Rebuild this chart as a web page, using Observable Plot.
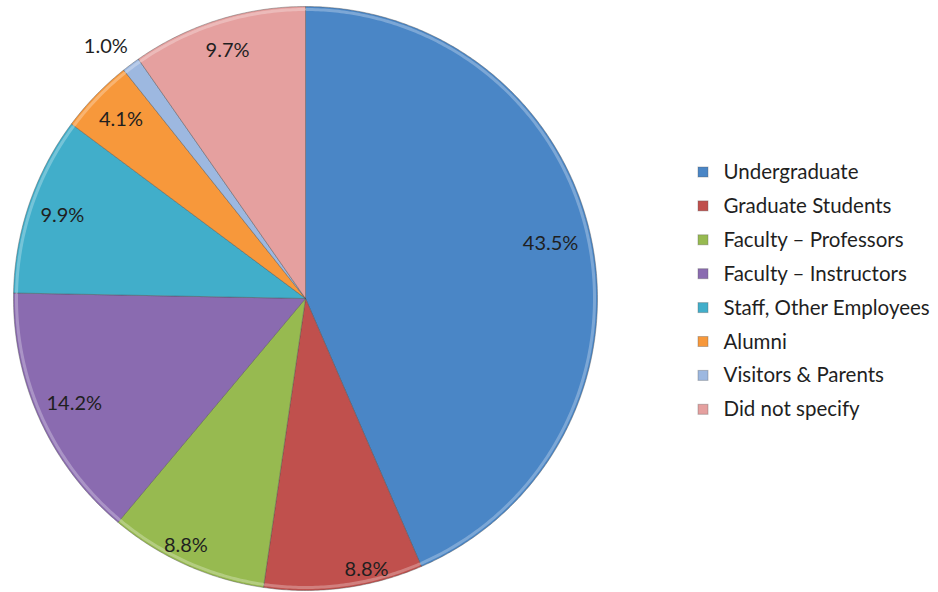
<!DOCTYPE html>
<html>
<head>
<meta charset="utf-8">
<script src="https://cdn.jsdelivr.net/npm/d3@7"></script>
<script src="https://cdn.jsdelivr.net/npm/@observablehq/plot@0.6"></script>
<style>
  html, body { margin: 0; padding: 0; background: #fff; }
  #chart { width: 938px; height: 592px; }
</style>
</head>
<body>
<div id="chart"></div>
<script>
// ---- data ----
const categories = ["Undergraduate", "Graduate Students", "Faculty \u2013 Professors", "Faculty \u2013 Instructors",
                    "Staff, Other Employees", "Alumni", "Visitors & Parents", "Did not specify"];
const shares = [43.5, 8.8, 8.8, 14.2, 9.9, 4.1, 1.0, 9.7];
const labels = ["43.5%", "8.8%", "8.8%", "14.2%", "9.9%", "4.1%", "1.0%", "9.7%"];
const colors = ["#4A86C6", "#C0504D", "#97BA50", "#8A6BB0", "#41AECA", "#F7983B", "#9DB8E0", "#E5A09F"];

// ---- layout (pixel space) ----
const W = 938, H = 592;
const cx = 305, cy = 298, R = 292;
const labelRadius = [0.86, 0.95, 0.94, 0.87, 0.88, 0.88, 1.10, 0.89];
const labelTurn = [-0.015, -0.09, 0.03, 0, 0, 0, -0.03, 0];
const legendX = 703, legendY0 = 172, legendStep = 33.9;

const pie = d3.pie().sort(null).value(d => d)(shares);

// slice polygons (angles clockwise from 12 o'clock)
const slicePts = [];
pie.forEach((p, i) => {
  const n = Math.max(4, Math.ceil((p.endAngle - p.startAngle) / 0.01));
  slicePts.push({cat: categories[i], x: cx, y: cy});
  for (let k = 0; k <= n; k++) {
    const a = p.startAngle + (p.endAngle - p.startAngle) * k / n;
    slicePts.push({cat: categories[i], x: cx + R * Math.sin(a), y: cy - R * Math.cos(a)});
  }
  slicePts.push({cat: categories[i], x: cx, y: cy});
});

// highlight rim (bevel)
const rimPts = [];
pie.forEach((p, i) => {
  const n = Math.max(4, Math.ceil((p.endAngle - p.startAngle) / 0.01));
  for (let k = 0; k <= n; k++) {
    const a = p.startAngle + 0.004 + (p.endAngle - p.startAngle - 0.008) * k / n;
    rimPts.push({cat: categories[i], x: cx + (R - 3) * Math.sin(a), y: cy - (R - 3) * Math.cos(a)});
  }
});

const labelData = pie.map((p, i) => {
  const a = (p.startAngle + p.endAngle) / 2 + labelTurn[i];
  const r = R * labelRadius[i];
  return {text: labels[i], x: cx + r * Math.sin(a), y: cy - r * Math.cos(a)};
});

const legendData = categories.map((c, i) => ({cat: c, x: legendX, y: legendY0 + i * legendStep}));

const chart = Plot.plot({
  width: W, height: H,
  margin: 0,
  x: {domain: [0, W], range: [0, W], axis: null},
  y: {domain: [0, H], range: [0, H], axis: null},
  color: {domain: categories, range: colors},
  style: {fontFamily: "Lato, 'Open Sans', sans-serif", background: "white"},
  marks: [
    Plot.line(slicePts, {x: "x", y: "y", z: "cat", fill: "cat", stroke: "#4a4a4a", strokeOpacity: 0.4, strokeWidth: 1, curve: "linear"}),
    Plot.line(rimPts, {x: "x", y: "y", z: "cat", stroke: "white", strokeOpacity: 0.28, strokeWidth: 3}),
    Plot.text(labelData, {x: "x", y: "y", text: "text", fontSize: 20, fill: "#1f1f1f"}),
    Plot.rect(legendData, {x1: d => d.x - 5, x2: d => d.x + 5, y1: d => d.y - 5, y2: d => d.y + 5, fill: "cat", stroke: "#555", strokeOpacity: 0.35}),
    Plot.text(legendData, {x: d => d.x + 20, y: "y", text: "cat", textAnchor: "start", fontSize: 20.5, fill: "#1f1f1f"})
  ]
});
document.getElementById("chart").appendChild(chart);
</script>
</body>
</html>
